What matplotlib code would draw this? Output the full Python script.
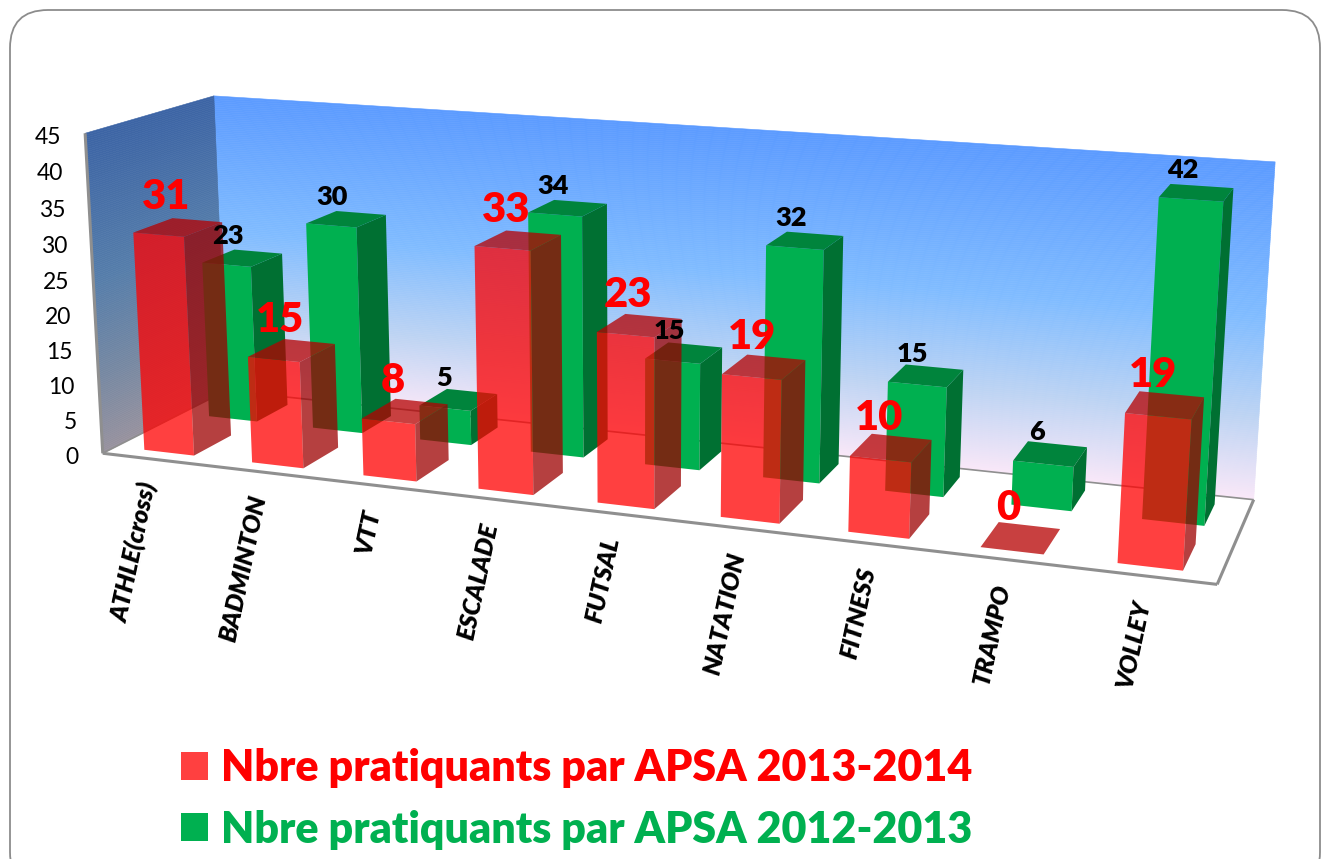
import numpy as np
import matplotlib
matplotlib.use("Agg")
import matplotlib.pyplot as plt
from matplotlib.patches import FancyBboxPatch, Patch
from mpl_toolkits.mplot3d import proj3d
from mpl_toolkits.mplot3d.art3d import Poly3DCollection, Line3DCollection

categories = ["ATHLE(cross)", "BADMINTON", "VTT", "ESCALADE", "FUTSAL",
              "NATATION", "FITNESS", "TRAMPO", "VOLLEY"]
values_2013_2014 = [31, 15, 8, 33, 23, 19, 10, 0, 19]
values_2012_2013 = [23, 30, 5, 34, 15, 32, 15, 6, 42]
z_ticks = [0, 5, 10, 15, 20, 25, 30, 35, 40, 45]
label_2013_2014 = "Nbre pratiquants par APSA 2013-2014"
label_2012_2013 = "Nbre pratiquants par APSA 2012-2013"

W, H = 1324, 859
XMAX, ZMAX = len(categories), 45

# --- camera: fit a perspective matrix to the chart box corners -------------
box_world = [(0, 0, 0), (0, 0, 45), (0, 1, 45), (0, 1, 0),
             (9, 1, 45), (9, 1, 0), (9, 0, 0)]
box_view = [(104, 453), (84, 133), (215, 96), (225, 391),
            (1275, 162), (1254, 499), (1217, 585)]


def fit_camera(world, view):
    rows = []
    for (x, y, z), (u, v) in zip(world, view):
        p = [x / XMAX, y, z / ZMAX, 1]
        rows.append(p + [0, 0, 0, 0] + [-u * c for c in p])
        rows.append([0, 0, 0, 0] + p + [-v * c for c in p])
    _, _, vt = np.linalg.svd(np.array(rows, float))
    P = vt[-1].reshape(3, 4) @ np.diag([1 / XMAX, 1, 1 / ZMAX, 1])
    P = P / P[2, 3]
    return np.vstack([P[0], P[1], [0, -1, 0, 0], P[2]])


M = fit_camera(box_world, box_view)

fig = plt.figure(figsize=(W / 100, H / 100), dpi=100, facecolor="white")

# --- frame and legend ------------------------------------------------------
ax0 = fig.add_axes([0, 0, 1, 1])
ax0.set_xlim(0, W)
ax0.set_ylim(H, 0)
ax0.axis("off")
ax0.add_patch(FancyBboxPatch((10 + 38, 10 + 38), 1310 - 76, 880 - 76,
                             boxstyle="round,pad=38,rounding_size=38",
                             fc="white", ec="#8c8c8c", lw=1.3))
RED_F, GREEN_F = (1, 0, 0, .75), (0, 176 / 255, 80 / 255, 1)
handles = [Patch(fc="#ff4040", ec="none"), Patch(fc="#00b050", ec="none")]
ax0.legend(handles, [label_2013_2014, label_2012_2013],
           loc="upper left", bbox_to_anchor=(181 / W, 1 - 748 / H),
           frameon=False, labelcolor=["#ff0000", "#00b050"],
           prop={"family": "Lato", "weight": "heavy", "size": 31},
           handlelength=0.63, handleheight=0.63, handletextpad=0.29,
           labelspacing=0.5, borderpad=0, borderaxespad=0)

# --- 3D axes driven by the fitted camera -----------------------------------
ax = fig.add_axes([0, 0, 1, 1], projection="3d", computed_zorder=False)
ax.get_proj = lambda: M
ax.apply_aspect = lambda position=None: None
ax.set_axis_off()
ax.patch.set_alpha(0)


def to_px(x, y, z):
    u, v, _ = proj3d.proj_transform(x, y, z, M)
    return float(u), float(v)


# walls
stops_z = [0, .25, .55, 1]
back_rgb = np.array([(250, 232, 248), (190, 212, 243), (128, 188, 255), (92, 155, 255)]) / 255
side_rgb = np.array([(152, 146, 158), (118, 136, 162), (85, 125, 170), (60, 100, 165)]) / 255
edges = np.linspace(0, 1, 161)
mid = (edges[:-1] + edges[1:]) / 2


def ramp(rgb):
    return np.column_stack([np.interp(mid, stops_z, rgb[:, k]) for k in range(3)])


back = [[(0, 1, a * ZMAX), (XMAX, 1, a * ZMAX), (XMAX, 1, b * ZMAX), (0, 1, b * ZMAX)]
        for a, b in zip(edges[:-1], edges[1:])]
side = [[(0, 0, a * ZMAX), (0, 1, a * ZMAX), (0, 1, b * ZMAX), (0, 0, b * ZMAX)]
        for a, b in zip(edges[:-1], edges[1:])]
c = ramp(back_rgb)
ax.add_collection3d(Poly3DCollection(back, facecolors=c, edgecolors=c, linewidths=.4, zorder=1))
c = ramp(side_rgb)
ax.add_collection3d(Poly3DCollection(side, facecolors=c, edgecolors=c, linewidths=.4, zorder=1))

# floor outline and the front wall edge
front_edges = [[(0, 0, ZMAX), (0, 0, 0)], [(0, 0, 0), (XMAX, 0, 0)], [(XMAX, 0, 0), (XMAX, 1, 0)]]
rear_edges = [[(0, 0, 0), (0, 1, 0)], [(0, 1, 0), (XMAX, 1, 0)]]
ax.add_collection3d(Line3DCollection(rear_edges, colors="#8f8f8f", linewidths=1.2, zorder=1.5))
ax.add_collection3d(Line3DCollection(front_edges, colors="#8f8f8f", linewidths=2.2, zorder=1.5))

# bars
BAR_W = .465
none = (0, 0, 0, 0)


def bars(vals, y0, dy, top, front, right, z):
    n = len(vals)
    x = np.arange(n) + (1 - BAR_W) / 2
    cols = [none, top, front, none, none, right] * n
    ax.bar3d(x, np.full(n, y0), np.zeros(n), BAR_W, dy, np.array(vals, float),
             color=cols, shade=False, zorder=z, linewidth=0)


bars(values_2012_2013, .62, .27, "#00843c", "#00b050", "#007032", 2)
bars(values_2013_2014, .10, .30, (182 / 255, 0, 0, .75), RED_F, (156 / 255, 0, 0, .75), 3)

# labels
for i, v in enumerate(values_2012_2013):
    u, w = to_px(i + .5, .74, v)
    ax.text2D(u - 13, w - 15, str(v), transform=ax.transData, ha="center", va="baseline",
              color="black", family="Lato", weight="heavy", size=19.5, zorder=6)
for i, v in enumerate(values_2013_2014):
    u, w = to_px(i + .5, .25, v)
    ax.text2D(u - 12, w - 18, str(v), transform=ax.transData, ha="center", va="baseline",
              color="#ff0000", family="Lato", weight="heavy", size=30, zorder=7)
for t in z_ticks:
    u, w = to_px(0, 0, t)
    ax.text2D(u - 24, w + 4, str(t), transform=ax.transData, ha="right", va="center",
              color="black", family="Lato", size=16.5, zorder=6)
for i, name in enumerate(categories):
    u, w = to_px(i + .5, -.05, 0)
    ax.text2D(u, w + 20, name, transform=ax.transData, ha="right", va="center",
              rotation=78, rotation_mode="anchor", color="black",
              family="Lato", style="italic", weight="heavy",
              size=18, zorder=6)

ax.viewLim.intervalx = (0, W)
ax.viewLim.intervaly = (H, 0)
fig.savefig("out.png", dpi=100)
